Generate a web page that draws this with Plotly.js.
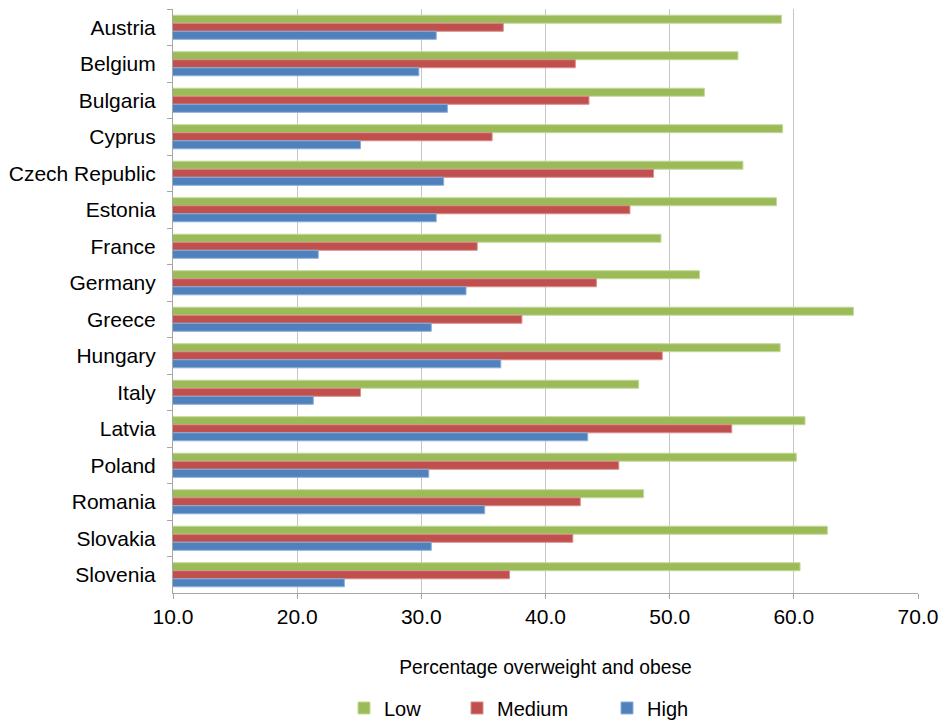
<!DOCTYPE html>
<html>
<head>
<meta charset="utf-8">
<script src="https://cdn.plot.ly/plotly-3.0.1.min.js"></script>
<style>html,body{margin:0;padding:0;background:#fff;}#chart{width:941px;height:720px;}</style>
</head>
<body>
<div id="chart"></div>
<script>
const countries = ["Austria","Belgium","Bulgaria","Cyprus","Czech Republic","Estonia","France","Germany","Greece","Hungary","Italy","Latvia","Poland","Romania","Slovakia","Slovenia"];
const lowValues    = [59.0, 55.5, 52.8, 59.1, 55.9, 58.6, 49.3, 52.4, 64.8, 58.9, 47.5, 60.9, 60.2, 47.9, 62.7, 60.5];
const mediumValues = [36.6, 42.4, 43.5, 35.7, 48.7, 46.8, 34.5, 44.1, 38.1, 49.4, 25.1, 55.0, 45.9, 42.8, 42.2, 37.1];
const highValues   = [31.2, 29.8, 32.1, 25.1, 31.8, 31.2, 21.7, 33.6, 30.8, 36.4, 21.3, 43.4, 30.6, 35.1, 30.8, 23.8];
const xTickValues = [10, 20, 30, 40, 50, 60, 70];

const font = "Liberation Sans, Arial, sans-serif";
function bar(name, vals, color, lineColor, legendId) {
  return {type: "bar", orientation: "h", name: name, y: countries, x: vals, legend: legendId,
    base: 0, marker: {color: color, line: {color: lineColor, width: 1}}, hoverinfo: "x+y"};
}
const data = [
  bar("Low", lowValues, "#9BBB59", "#c3d89a", "legend"),
  bar("Medium", mediumValues, "#C0504D", "#d98c8a", "legend2"),
  bar("High", highValues, "#4F81BD", "#8eaed6", "legend3")
];
function leg(xpx) {
  return {orientation: "h", xref: "container", x: xpx / 941, xanchor: "left",
    yref: "container", y: 0.0167, yanchor: "middle", bgcolor: "rgba(0,0,0,0)",
    font: {size: 20, family: font, color: "#000"}, itemwidth: 30};
}
const layout = {
  width: 941, height: 720,
  margin: {l: 173, r: 23, t: 9, b: 127},
  paper_bgcolor: "#fff", plot_bgcolor: "#fff",
  barmode: "group", bargap: 0.34, bargroupgap: 0,
  font: {family: font, color: "#000"},
  xaxis: {
    range: [10, 70], tickvals: xTickValues, tickformat: ".1f", automargin: false,
    showgrid: true, gridcolor: "#c6c6c6", gridwidth: 1.2,
    showline: true, linecolor: "#a6a6a6", linewidth: 1,
    ticks: "outside", ticklen: 5, tickcolor: "#a6a6a6",
    tickfont: {size: 21, family: font, color: "#000"},
    zeroline: false,
    title: {text: "Percentage overweight and obese", font: {size: 19.3, family: font, color: "#000"}, standoff: 33}
  },
  yaxis: {
    type: "category", autorange: "reversed", automargin: false,
    tickson: "boundaries", ticks: "outside", ticklen: 5, tickcolor: "#a6a6a6",
    showline: true, linecolor: "#a6a6a6", linewidth: 1, showgrid: false,
    tickfont: {size: 21, family: font, color: "#000"}, ticklabelstandoff: 12
  },
  legend: leg(344),
  legend2: leg(457),
  legend3: leg(607),
  showlegend: true
};
Plotly.newPlot("chart", data, layout, {displayModeBar: false, staticPlot: true});
</script>
</body>
</html>
